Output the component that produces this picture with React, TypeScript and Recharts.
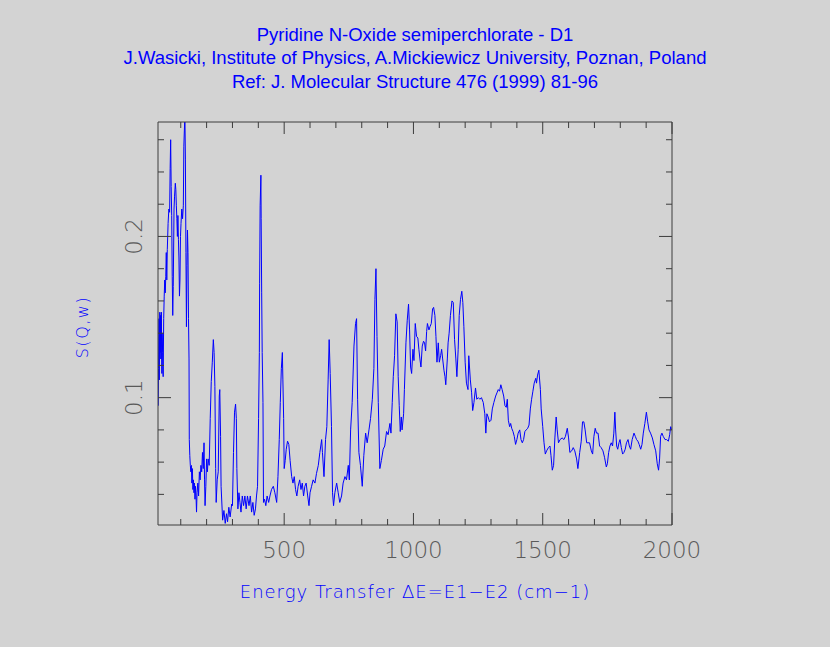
import { Line, LineChart, XAxis, YAxis } from "recharts";

// energy transfer (cm-1) and S(Q,w)
const energy = [
  13, 14, 16, 17, 19, 20, 22, 23, 25, 27, 28, 30, 32, 34, 36, 38, 40, 42, 44, 46,
  48, 51, 54, 57, 59, 61, 63, 65, 67, 69, 71, 74, 76, 79, 81, 83, 85, 87, 89, 91,
  93, 95, 97, 99, 101, 104, 107, 110, 112, 114, 116, 118, 120, 122, 124, 126, 128, 130, 132, 133,
  135, 137, 139, 141, 143, 145, 147, 149, 151, 153, 155, 157, 159, 161, 163, 166, 169, 172, 175, 178,
  181, 184, 187, 190, 192, 194, 197, 200, 203, 206, 210, 214, 218, 222, 226, 229, 232, 235, 237, 241,
  245, 249, 251, 254, 256, 262, 267, 272, 277, 281, 286, 291, 297,
  300, 304, 308, 312, 315, 317, 321, 325, 329, 333, 338, 343, 348, 353, 358, 364, 369, 374, 379, 384,
  389, 393, 397, 401, 404, 405, 407, 410, 411, 413, 415, 418, 420, 424, 429, 434, 440, 445, 451, 458,
  464, 471, 476, 481, 485, 489, 493, 495, 498, 500, 504, 508, 513, 518, 523, 529, 534, 539, 544, 549,
  554, 560, 565, 570, 575, 580, 585, 591, 596,
  600, 606, 612, 619, 625, 632, 638, 645, 648, 654, 660, 665, 670, 674, 678, 683, 687, 691, 696, 703,
  709, 715, 722, 728, 735, 741, 748, 752, 757, 763, 770, 776, 780, 784, 789, 795, 802, 808, 815, 821,
  828, 834, 841, 847, 851, 855, 859, 864, 870,
  876, 883, 889, 896, 902, 909, 913, 918, 922, 927, 932, 937, 941, 945, 949, 953, 956, 962, 965, 971,
  976, 981, 985, 989, 993, 998, 1002, 1007, 1012, 1017, 1021, 1025, 1029, 1034, 1039, 1043, 1047, 1051, 1054, 1060,
  1064, 1069, 1074, 1078, 1083, 1087, 1091, 1096, 1100, 1105, 1109, 1113, 1118, 1122, 1125, 1131, 1134, 1138, 1143, 1149,
  1154, 1159, 1164, 1168, 1173, 1177, 1182, 1187, 1191, 1195, 1200, 1205, 1211,
  1214, 1220, 1225, 1229, 1234, 1240, 1245, 1251, 1257, 1263, 1270, 1276, 1280, 1284, 1289, 1294, 1300, 1305, 1311, 1318,
  1323, 1328, 1333, 1338, 1343, 1349, 1354, 1359, 1363, 1367, 1372, 1376, 1380, 1385, 1390, 1395, 1400, 1405, 1411, 1416,
  1421, 1426, 1431, 1436, 1442, 1447, 1452, 1457, 1462, 1467, 1473, 1476, 1480, 1485, 1491, 1494, 1500, 1505, 1510, 1515,
  1522, 1528, 1532, 1537, 1542, 1547, 1552, 1556, 1561, 1567,
  1575, 1582, 1588, 1595, 1600, 1605, 1612, 1618, 1624, 1631, 1636, 1643, 1649, 1654, 1659, 1664, 1670, 1675, 1681, 1688,
  1693, 1698, 1703, 1708, 1714, 1720, 1726, 1733, 1739, 1746, 1750, 1755, 1760, 1765, 1770, 1775, 1779, 1782, 1786, 1790,
  1795, 1799, 1804, 1809, 1814, 1819, 1824, 1830, 1835, 1840, 1846, 1853, 1858, 1863, 1868, 1873, 1879, 1884, 1889, 1895,
  1901, 1906, 1911, 1917, 1924, 1930, 1937, 1943, 1948, 1952, 1956, 1961, 1966, 1973, 1979, 1986, 1991, 1995, 1998,
];

const sqw = [
  0.095, 0.118, 0.149, 0.111, 0.153, 0.128, 0.151, 0.124, 0.153, 0.115, 0.14, 0.128, 0.113, 0.149, 0.163, 0.173, 0.165, 0.175, 0.19, 0.173,
  0.192, 0.208, 0.217, 0.215, 0.242, 0.26, 0.231, 0.213, 0.175, 0.151, 0.169, 0.217, 0.225, 0.233, 0.229, 0.219, 0.211, 0.2, 0.213, 0.198,
  0.186, 0.163, 0.173, 0.2, 0.208, 0.217, 0.211, 0.219, 0.256, 0.266, 0.275, 0.248, 0.19, 0.144, 0.182, 0.204, 0.19, 0.149, 0.124, 0.074,
  0.064, 0.058, 0.054, 0.058, 0.047, 0.056, 0.043, 0.049, 0.041, 0.047, 0.037, 0.045, 0.039, 0.029, 0.041, 0.047, 0.039, 0.054, 0.049, 0.058,
  0.054, 0.066, 0.056, 0.072, 0.049, 0.033, 0.045, 0.062, 0.054, 0.062, 0.058, 0.087, 0.11, 0.122, 0.136, 0.128, 0.107, 0.056, 0.035, 0.049,
  0.054, 0.101, 0.105, 0.076, 0.045, 0.024, 0.03, 0.022, 0.028, 0.023, 0.032, 0.026, 0.034,
  0.033, 0.066, 0.091, 0.096, 0.087, 0.056, 0.031, 0.041, 0.035, 0.029, 0.039, 0.033, 0.039, 0.031, 0.039, 0.033, 0.039, 0.029, 0.035, 0.027,
  0.031, 0.039, 0.045, 0.087, 0.128, 0.171, 0.219, 0.238, 0.211, 0.165, 0.128, 0.097, 0.035, 0.037, 0.033, 0.039, 0.035, 0.039, 0.043, 0.045,
  0.041, 0.035, 0.051, 0.074, 0.097, 0.118, 0.128, 0.111, 0.087, 0.056, 0.061, 0.068, 0.073, 0.071, 0.061, 0.051, 0.047, 0.051, 0.043, 0.039,
  0.045, 0.049, 0.043, 0.047, 0.039, 0.045, 0.047, 0.039, 0.033,
  0.041, 0.045, 0.049, 0.047, 0.053, 0.058, 0.066, 0.074, 0.066, 0.051, 0.074, 0.082, 0.111, 0.136, 0.115, 0.082, 0.041, 0.033, 0.041, 0.047,
  0.041, 0.035, 0.039, 0.047, 0.051, 0.049, 0.058, 0.049, 0.08, 0.097, 0.132, 0.146, 0.149, 0.099, 0.066, 0.058, 0.045, 0.064, 0.078, 0.072,
  0.08, 0.087, 0.099, 0.118, 0.161, 0.18, 0.138, 0.097, 0.056,
  0.061, 0.068, 0.07, 0.079, 0.077, 0.084, 0.078, 0.097, 0.113, 0.126, 0.152, 0.147, 0.113, 0.095, 0.079, 0.088, 0.08, 0.09, 0.105, 0.134,
  0.148, 0.158, 0.142, 0.119, 0.115, 0.13, 0.123, 0.146, 0.138, 0.137, 0.13, 0.124, 0.119, 0.132, 0.135, 0.134, 0.129, 0.141, 0.146, 0.142,
  0.144, 0.146, 0.155, 0.156, 0.151, 0.138, 0.122, 0.134, 0.122, 0.126, 0.13, 0.124, 0.117, 0.113, 0.108, 0.124, 0.134, 0.14, 0.151, 0.16,
  0.159, 0.136, 0.124, 0.113, 0.13, 0.151, 0.161, 0.166, 0.159, 0.144, 0.122, 0.109, 0.105,
  0.126, 0.111, 0.103, 0.092, 0.097, 0.106, 0.099, 0.1, 0.099, 0.1, 0.097, 0.09, 0.078, 0.09, 0.088, 0.085, 0.086, 0.093, 0.097, 0.101,
  0.103, 0.105, 0.104, 0.108, 0.105, 0.101, 0.095, 0.094, 0.099, 0.086, 0.082, 0.084, 0.081, 0.079, 0.076, 0.071, 0.074, 0.078, 0.08, 0.074,
  0.072, 0.074, 0.079, 0.08, 0.081, 0.083, 0.093, 0.099, 0.104, 0.109, 0.112, 0.109, 0.114, 0.117, 0.105, 0.093, 0.082, 0.072, 0.065, 0.067,
  0.069, 0.07, 0.064, 0.055, 0.058, 0.075, 0.088, 0.08, 0.072, 0.074,
  0.075, 0.074, 0.076, 0.081, 0.075, 0.066, 0.067, 0.069, 0.067, 0.062, 0.056, 0.066, 0.073, 0.085, 0.085, 0.08, 0.072, 0.072, 0.072, 0.067,
  0.065, 0.076, 0.081, 0.078, 0.078, 0.07, 0.069, 0.067, 0.063, 0.057, 0.059, 0.066, 0.07, 0.072, 0.07, 0.078, 0.091, 0.08, 0.07, 0.068,
  0.072, 0.074, 0.069, 0.065, 0.066, 0.068, 0.072, 0.074, 0.07, 0.068, 0.074, 0.078, 0.076, 0.074, 0.073, 0.071, 0.068, 0.071, 0.078, 0.084,
  0.091, 0.085, 0.08, 0.078, 0.075, 0.071, 0.067, 0.059, 0.055, 0.062, 0.076, 0.078, 0.076, 0.074, 0.074, 0.073, 0.077, 0.082, 0.08,
];

const xTicks = [100, 200, 300, 400, 500, 600, 700, 800, 900, 1000, 1100, 1200, 1300, 1400, 1500, 1600, 1700, 1800, 1900, 2000];
const yTicks = [0.04, 0.06, 0.08, 0.1, 0.12, 0.14, 0.16, 0.18, 0.2, 0.22, 0.24, 0.26];
const xLabelled = [500, 1000, 1500, 2000];
const yLabelled = [0.1, 0.2];

const titleLines = [
  "Pyridine N-Oxide semiperchlorate - D1",
  "J.Wasicki, Institute of Physics, A.Mickiewicz University, Poznan, Poland",
  "Ref: J. Molecular Structure 476 (1999) 81-96",
];

const data = energy.map((e, i) => ({ e, s: sqw[i] }));

const BG = "#d3d3d3";
const FRAME = "#3c3c3c";
const BLUE = "#0000ff";
const TICK_TEXT = "#5a5a5a";
const tickFont = "'DejaVu Sans', sans-serif";

const isXMajor = (v: number) => xLabelled.includes(v);
const isYMajor = (v: number) => yLabelled.some((m) => Math.abs(m - v) < 1e-9);

function BottomTick({ x, y, payload }: any) {
  const major = isXMajor(payload.value);
  return (
    <g>
      <line x1={x} x2={x} y1={y} y2={y - (major ? 12 : 6)} stroke={FRAME} />
      {major && (
        <text x={x} y={y + 33} textAnchor="middle" fontSize={23} fontFamily={tickFont} fontWeight={200} fill={TICK_TEXT}>
          {payload.value}
        </text>
      )}
    </g>
  );
}

function TopTick({ x, y, payload }: any) {
  const major = isXMajor(payload.value);
  return <line x1={x} x2={x} y1={y} y2={y + (major ? 12 : 6)} stroke={FRAME} />;
}

function LeftTick({ x, y, payload }: any) {
  const major = isYMajor(payload.value);
  const tx = x - 16;
  return (
    <g>
      <line x1={x} x2={x + (major ? 13 : 6)} y1={y} y2={y} stroke={FRAME} />
      {major && (
        <text
          x={tx}
          y={y}
          transform={`rotate(-90, ${tx}, ${y})`}
          textAnchor="middle"
          fontSize={23}
          fontFamily={tickFont}
          fontWeight={200}
          fill={TICK_TEXT}
        >
          {payload.value}
        </text>
      )}
    </g>
  );
}

function RightTick({ x, y, payload }: any) {
  const major = isYMajor(payload.value);
  return <line x1={x} x2={x - (major ? 13 : 6)} y1={y} y2={y} stroke={FRAME} />;
}

export default function App() {
  return (
    <div style={{ position: "fixed", left: 0, top: 0, width: 830, height: 647, background: BG, overflow: "hidden" }}>
      {titleLines.map((t, i) => (
        <div
          key={t}
          style={{
            position: "absolute",
            left: 0,
            width: 830,
            top: [25, 48, 72][i],
            textAlign: "center",
            color: BLUE,
            fontFamily: "'Liberation Sans', Arial, sans-serif",
            fontSize: 18.5,
            lineHeight: "20px",
            whiteSpace: "nowrap",
          }}
        >
          {t}
        </div>
      ))}

      <LineChart width={830} height={647} data={data} margin={{ top: 112, right: 148, bottom: 72, left: 98 }}>
        <XAxis
          dataKey="e"
          type="number"
          domain={[12, 2000]}
          ticks={xTicks}
          interval={0}
          allowDataOverflow
          height={50}
          tickSize={0}
          tickMargin={0}
          axisLine={{ stroke: FRAME }}
          tickLine={false}
          tick={(p: any) => <BottomTick {...p} />}
        />
        <XAxis
          xAxisId="top"
          orientation="top"
          dataKey="e"
          type="number"
          domain={[12, 2000]}
          ticks={xTicks}
          interval={0}
          allowDataOverflow
          height={10}
          tickSize={0}
          tickMargin={0}
          axisLine={{ stroke: FRAME }}
          tickLine={false}
          tick={(p: any) => <TopTick {...p} />}
        />
        <YAxis
          type="number"
          domain={[0.021, 0.271]}
          ticks={yTicks}
          interval={0}
          allowDataOverflow
          width={60}
          tickSize={0}
          tickMargin={0}
          axisLine={{ stroke: FRAME }}
          tickLine={false}
          tick={(p: any) => <LeftTick {...p} />}
        />
        <YAxis
          yAxisId="right"
          orientation="right"
          type="number"
          domain={[0.021, 0.271]}
          ticks={yTicks}
          interval={0}
          allowDataOverflow
          width={10}
          tickSize={0}
          tickMargin={0}
          axisLine={{ stroke: FRAME }}
          tickLine={false}
          tick={(p: any) => <RightTick {...p} />}
        />
        <Line
          type="linear"
          dataKey="s"
          stroke={BLUE}
          strokeWidth={1}
          dot={false}
          activeDot={false}
          isAnimationActive={false}
        />
      </LineChart>

      <div
        style={{
          position: "absolute",
          left: 0,
          width: 830,
          top: 581,
          textAlign: "center",
          color: BLUE,
          fontFamily: tickFont,
          fontWeight: 200,
          fontSize: 18,
          letterSpacing: 1,
          whiteSpace: "nowrap",
        }}
      >
        Energy Transfer ΔE=E1−E2 (cm−1)
      </div>

      <div
        style={{
          position: "absolute",
          left: 82,
          top: 327,
          transform: "translate(-50%, -50%) rotate(-90deg)",
          color: BLUE,
          fontFamily: tickFont,
          fontWeight: 200,
          fontSize: 16,
          letterSpacing: 1.5,
          whiteSpace: "nowrap",
        }}
      >
        S(Q,w)
      </div>
    </div>
  );
}
